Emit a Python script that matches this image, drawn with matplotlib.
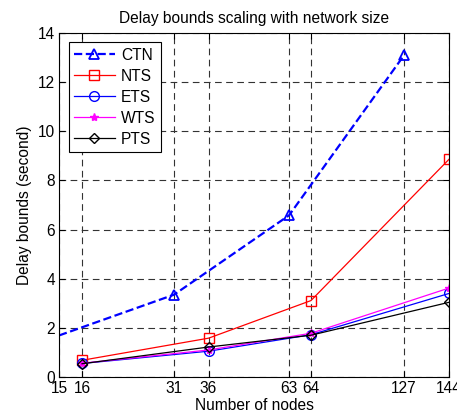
import matplotlib
matplotlib.use('Agg')
import matplotlib.pyplot as plt

plt.rcParams['font.family'] = ['Liberation Sans', 'DejaVu Sans']

# x axis is not linear in node count: tick labels sit at these axis positions
tick_labels = ['15', '16', '31', '36', '63', '64', '127', '144']
tick_pos = [1.0, 1.2, 2.0, 2.3, 3.0, 3.19, 4.0, 4.39]

# CTN uses 15/31/63/127 nodes, the others 16/36/64/144
x_ctn = [1.0, 2.0, 3.0, 4.0]
x_ts = [1.2, 2.3, 3.19, 4.39]

ctn = [1.69, 3.35, 6.58, 13.1]
nts = [0.68, 1.58, 3.11, 8.86]
ets = [0.55, 1.05, 1.72, 3.40]
wts = [0.56, 1.10, 1.78, 3.62]
pts = [0.54, 1.22, 1.70, 3.04]

fs = 11.2

fig = plt.figure(figsize=(4.57, 4.15), dpi=100)
ax = fig.add_axes([59/457, 1 - 377/415, 390/457, 344/415])

ax.plot(x_ctn, ctn, '--^', color='blue', linewidth=1.6, markersize=7,
        markerfacecolor='none', markeredgewidth=1.3, markevery=[1, 2, 3], label='CTN')
ax.plot(x_ts, nts, '-s', color='red', linewidth=0.9, markersize=7,
        markerfacecolor='none', label='NTS')
ax.plot(x_ts, ets, '-o', color='blue', linewidth=0.9, markersize=7,
        markerfacecolor='none', label='ETS')
ax.plot(x_ts, wts, '-*', color='magenta', linewidth=0.9, markersize=6, label='WTS')
ax.plot(x_ts, pts, '-D', color='black', linewidth=0.9, markersize=5,
        markerfacecolor='none', label='PTS')

ax.set_xlim(1.0, 4.39)
ax.set_ylim(0, 14)
ax.set_xticks(tick_pos)
ax.set_xticklabels(tick_labels)
ax.set_yticks(range(0, 15, 2))
ax.tick_params(direction='in', top=True, right=True, length=4, labelsize=fs, pad=3)
ax.grid(True, color='0.2', linestyle=(0, (6, 4)), linewidth=0.8)
for s in ax.spines.values():
    s.set_linewidth(0.8)

ax.set_title('Delay bounds scaling with network size', fontsize=fs, pad=7)
ax.set_xlabel('Number of nodes', fontsize=fs, labelpad=1)
ax.set_ylabel('Delay bounds (second)', fontsize=fs, labelpad=4)

leg = ax.legend(loc='upper left', bbox_to_anchor=(0.005, 0.995), fontsize=fs,
                fancybox=False, framealpha=1, edgecolor='black',
                handlelength=2.6, labelspacing=0.38, borderpad=0.35, handletextpad=0.4)
leg.get_frame().set_linewidth(0.8)

fig.savefig('out.png', dpi=100)
